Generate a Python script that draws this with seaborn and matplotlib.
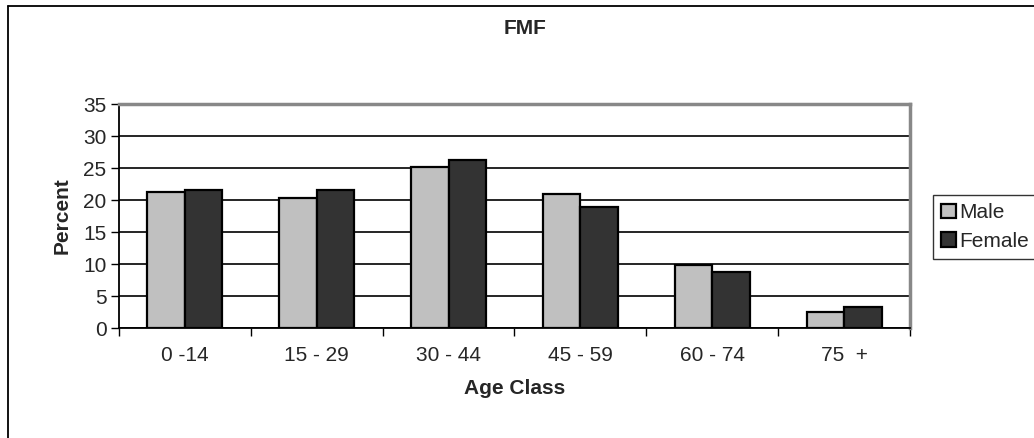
import matplotlib
matplotlib.use("Agg")
import matplotlib.pyplot as plt
import seaborn as sns
import pandas as pd
from matplotlib.lines import Line2D
from matplotlib.ticker import FixedLocator

categories = ["0 -14", "15 - 29", "30 - 44", "45 - 59", "60 - 74", "75  +"]
male = [21.2, 20.3, 25.2, 20.9, 9.9, 2.5]
female = [21.6, 21.5, 26.3, 18.9, 8.7, 3.3]
series = ["Male", "Female"]
yticks = [0, 5, 10, 15, 20, 25, 30, 35]

df = pd.DataFrame({
    "Age Class": categories * 2,
    "Percent": male + female,
    "Sex": [series[0]] * len(categories) + [series[1]] * len(categories),
})

sns.set_style("white")
plt.rcParams["font.family"] = ["Liberation Sans", "DejaVu Sans"]

FS = 15

fig = plt.figure(figsize=(10.34, 4.38), dpi=100)
ax = fig.add_axes([119 / 1034, 110 / 438, 791 / 1034, 224 / 438])

sns.barplot(data=df, x="Age Class", y="Percent", hue="Sex",
            palette=["#c0c0c0", "#333333"], width=0.57, gap=0,
            edgecolor="black", linewidth=1.6, saturation=1, ax=ax, zorder=3)

ax.set_ylim(0, 35)
ax.set_xlim(-0.5, len(categories) - 0.5)
ax.set_yticks(yticks)
ax.yaxis.grid(True, color="black", linewidth=1.2, zorder=0)
ax.set_axisbelow(True)

ax.tick_params(axis="y", which="major", length=6, width=1, color="black",
               labelsize=FS, direction="out", left=True, pad=3)
ax.tick_params(axis="x", which="major", length=0, labelsize=FS, pad=13)
ax.xaxis.set_minor_locator(FixedLocator([i + 0.5 for i in range(-1, len(categories))]))
ax.tick_params(axis="x", which="minor", length=6, width=1, color="black",
               direction="out", bottom=True)

for side in ["left", "bottom"]:
    ax.spines[side].set_color("black")
    ax.spines[side].set_linewidth(1.3)
for side in ["top", "right"]:
    ax.spines[side].set_visible(True)
    ax.spines[side].set_color("#888888")
    ax.spines[side].set_linewidth(2.5)

ax.set_xlabel("Age Class", fontsize=FS, fontweight="bold", labelpad=10)
ax.set_ylabel("Percent", fontsize=FS, fontweight="bold", labelpad=8)

fig.text(525 / 1034, (438 - 28) / 438, "FMF", ha="center", va="center",
         fontsize=15, fontweight="bold")

leg = ax.legend(loc="upper left", bbox_to_anchor=(933 / 1034, (438 - 195) / 438),
                bbox_transform=fig.transFigure, frameon=True, fancybox=False,
                edgecolor="black", fontsize=FS, handlelength=0.7,
                handleheight=0.7, handletextpad=0.15, borderpad=0.4,
                labelspacing=0.45, borderaxespad=0)
leg.get_frame().set_linewidth(1.0)
leg.set_title(None)

# outer chart border (clipped at right and bottom)
fig.add_artist(Line2D([8 / 1034, 1.0], [(438 - 6) / 438] * 2,
                      transform=fig.transFigure, color="black", linewidth=1.3))
fig.add_artist(Line2D([8 / 1034] * 2, [0, (438 - 6) / 438],
                      transform=fig.transFigure, color="black", linewidth=1.3))

fig.savefig("out.png", dpi=100)
